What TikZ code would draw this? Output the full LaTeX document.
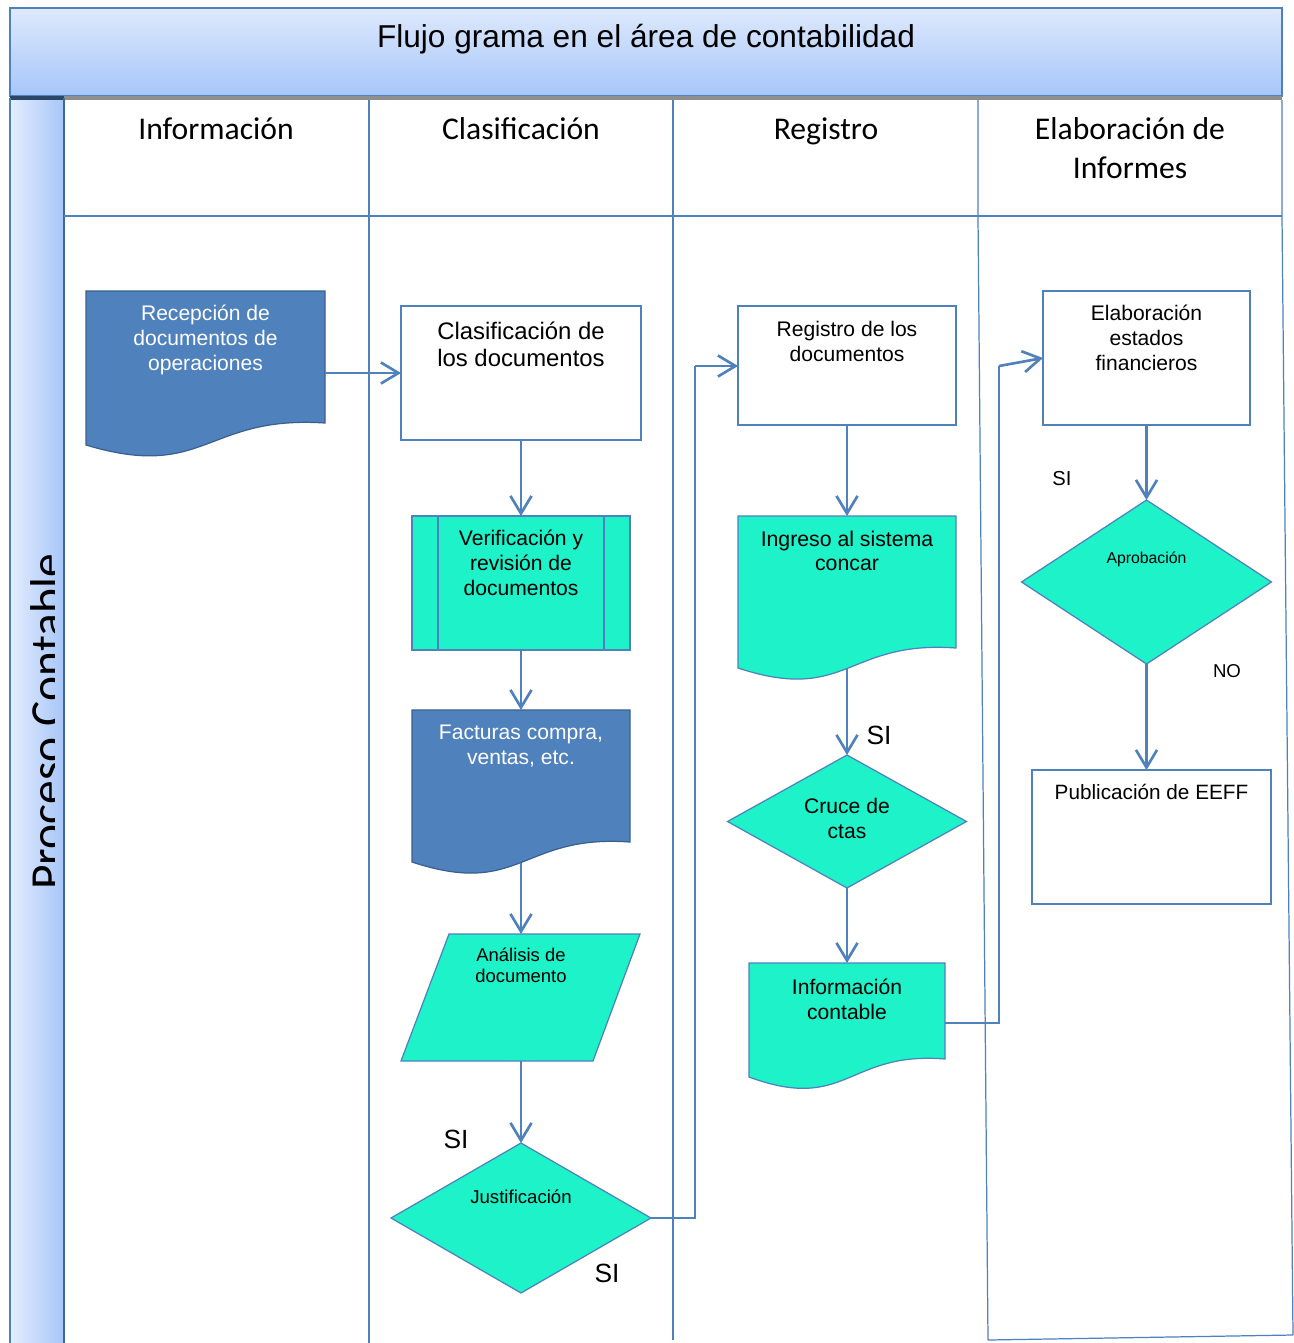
\documentclass[tikz,border=0pt]{standalone}
\usepackage{fontspec}
\setmainfont{Liberation Sans}
\newfontfamily\calibrifont{Carlito}
\usetikzlibrary{arrows.meta,calc}
\definecolor{lane}{HTML}{4F81BD}
\definecolor{turq}{HTML}{1DF2C9}
\definecolor{dkblue}{HTML}{4F81BD}
\definecolor{dkborder}{HTML}{3A6090}
\definecolor{bandtop}{HTML}{DEE9FD}
\definecolor{bandbot}{HTML}{A6C6F9}
\definecolor{sideleft}{HTML}{E4EDFD}
\definecolor{sideright}{HTML}{A7C6F9}
\definecolor{shadowgray}{HTML}{8E8E8E}
\newcommand\docpath[6]{%
  \path[#1] (#2,#3) -- (#4,#3) -- (#4,#5)
    .. controls ({(#2+#4)/2},{#5-8}) and ({(#2+#4)/2},{#6+36}) .. (#2,#6) -- cycle;}
\begin{document}
\begin{tikzpicture}[x=0.02cm,y=-0.02cm,
  laneline/.style={draw=lane, line width=0.7pt},
  anchorbox/.style={rectangle, draw=none, inner sep=0, outer sep=0},
  whitebox/.style={rectangle, draw=lane, fill=white, line width=0.7pt, inner sep=0, outer sep=0},
  turqbox/.style={rectangle, draw=lane, fill=turq, line width=0.7pt, inner sep=0, outer sep=0},
  turqfill/.style={draw=lane, fill=turq, line width=0.7pt},
  darkfill/.style={draw=dkborder, fill=dkblue, line width=0.7pt},
  arr/.style={draw=lane, line width=1.5pt, -{Straight Barb[length=10pt,width=12pt]}},
  thinline/.style={draw=lane, line width=0.7pt},
  tx/.style={inner sep=0, outer sep=0, align=center, font=\fontsize{12}{14.2}\selectfont},
  hdr/.style={inner sep=0, outer sep=0, align=center, font=\calibrifont\fontsize{18}{22}\selectfont},
  lbl/.style={inner sep=0, outer sep=0, anchor=base}
]
\useasboundingbox (0,0) rectangle (1294,1343);
\fill[white] (0,0) rectangle (1294,1343);

% ---------- title band ----------
\shade[top color=bandtop, bottom color=bandbot] (10,8) rectangle (1282,96);
\draw[lane, line width=0.8pt] (10,8) rectangle (1282,96);
\node[inner sep=0, anchor=base, font=\fontsize{18}{22}\selectfont] (title) at (646,47) {Flujo grama en el área de contabilidad};

% ---------- side band ----------
\shade[left color=sideleft, right color=sideright] (10,98) rectangle (64,1343);
\fill[shadowgray] (10,96) rectangle (1282,100);
\fill[black!45!lane] (10,96) rectangle (64,100);
\draw[lane, line width=0.8pt] (10,98) -- (10,1343);
\draw[lane!80!black, line width=0.9pt] (64,98) -- (64,1343);
\begin{scope}
  \clip (10,100) rectangle (54,1343);
  \node[rotate=90, anchor=base, inner sep=0, font=\calibrifont\fontsize{27}{32}\selectfont] (side) at (63,722) {Proceso Contable};
\end{scope}

% ---------- lanes ----------
\draw[laneline] (64,216) -- (1282,216);
\draw[laneline] (369,100) -- (369,1343);
\draw[laneline] (673,100) -- (673,216) -- (673,1340);
\draw[laneline] (978,100) -- (978,216) -- (988,1340);
\draw[laneline] (1282,100) -- (1282,216) -- (1293,1335);
\draw[laneline] (988,1340) -- (1293,1335);

\node[hdr, anchor=base] (h1) at (216,139) {Información};
\node[hdr, anchor=base] (h2) at (521,139) {Clasificación};
\node[hdr, anchor=base] (h3) at (826,139) {Registro};
\node[hdr, anchor=base] (h4) at (1130,139) {Elaboración de};
\node[hdr, anchor=base] (h5) at (1130,178) {Informes};

% ---------- lane 1 ----------
\node[anchorbox, minimum width=4.78cm, minimum height=2.64cm] (rec) at (205.5,357) {};
\docpath{darkfill}{86}{291}{325}{423}{445}
\node[tx, white, anchor=north] (trec) at (205.5,305) {Recepción de\\documentos de\\operaciones};

% ---------- lane 2 ----------
\node[whitebox, minimum width=4.8cm, minimum height=2.68cm] (clas) at (521,373) {};
\node[tx, anchor=north, font=\fontsize{13.6}{15.3}\selectfont] (tclas) at (521,322) {Clasificación de\\los documentos};

\node[turqbox, minimum width=4.36cm, minimum height=2.68cm] (verif) at (521,583) {};
\draw[lane, line width=0.7pt] (438,516) -- (438,650) (604,516) -- (604,650);
\node[tx, anchor=north] (tverif) at (521,530) {Verificación y\\revisión de\\documentos};

\node[anchorbox, minimum width=4.36cm, minimum height=2.64cm] (fact) at (521,776) {};
\docpath{darkfill}{412}{710}{630}{842}{862}
\coordinate (factB) at (521,863);
\node[tx, white, anchor=north] (tfact) at (521,725) {Facturas compra,\\ventas, etc.};

\node[anchorbox, minimum width=4.78cm, minimum height=2.54cm] (an) at (521,997.5) {};
\path[turqfill] (449,934) -- (640,934) -- (593,1061) -- (401,1061) -- cycle;
\node[tx, anchor=north, font=\fontsize{10.5}{11.9}\selectfont] (tan) at (521,948) {Análisis de\\documento};

\node[anchorbox, minimum width=5.2cm, minimum height=3cm] (just) at (521,1218) {};
\path[turqfill] (just.north) -- (just.east) -- (just.south) -- (just.west) -- cycle;
\node[tx, anchor=north, font=\fontsize{10.6}{12}\selectfont] (tjust) at (521,1190) {Justificación};

\node[lbl, font=\fontsize{15}{18}\selectfont] (si1) at (456,1148) {SI};
\node[lbl, font=\fontsize{15}{18}\selectfont] (si2) at (607,1282) {SI};

% ---------- lane 3 ----------
\node[whitebox, minimum width=4.36cm, minimum height=2.38cm] (regi) at (847,365.5) {};
\node[tx, anchor=north] (tregi) at (847,321) {Registro de los\\documentos};

\node[anchorbox, minimum width=4.36cm, minimum height=2.64cm] (ingr) at (847,582) {};
\docpath{turqfill}{738}{516}{956}{648}{668}
\coordinate (ingrB) at (847,669);
\node[tx, anchor=north, font=\fontsize{12.1}{13.6}\selectfont] (tingr) at (847,531) {Ingreso al sistema\\concar};

\node[anchorbox, minimum width=4.78cm, minimum height=2.66cm] (cruce) at (847,821.5) {};
\path[turqfill] (cruce.north) -- (cruce.east) -- (cruce.south) -- (cruce.west) -- cycle;
\node[tx, anchor=north] (tcruce) at (847,798) {Cruce de\\ctas};
\node[lbl, font=\fontsize{15}{18}\selectfont] (si3) at (879,744) {SI};

\node[anchorbox, minimum width=3.92cm, minimum height=1.92cm] (info) at (847,1011) {};
\docpath{turqfill}{749}{963}{945}{1059}{1077}
\node[tx, anchor=north] (tinfo) at (847,979) {Información\\contable};

% ---------- lane 4 ----------
\node[whitebox, minimum width=4.14cm, minimum height=2.68cm] (elab) at (1146.5,358) {};
\node[tx, anchor=north] (telab) at (1146.5,305) {Elaboración\\estados\\financieros};

\node[anchorbox, minimum width=5cm, minimum height=3.28cm] (aprob) at (1146.5,582) {};
\path[turqfill] (aprob.north) -- (aprob.east) -- (aprob.south) -- (aprob.west) -- cycle;
\node[tx, anchor=north, font=\fontsize{9}{11}\selectfont] (taprob) at (1146.5,552) {Aprobación};
\node[lbl, font=\fontsize{11.5}{14}\selectfont] (si4) at (1062,485) {SI};
\node[lbl, font=\fontsize{10.6}{13}\selectfont] (no1) at (1227,677) {NO};

\node[whitebox, minimum width=4.78cm, minimum height=2.68cm] (publ) at (1151.5,837) {};
\node[tx, anchor=north, font=\fontsize{11.8}{14}\selectfont] (tpubl) at (1151.5,784) {Publicación de EEFF};

% ---------- connectors ----------
\draw[arr] (rec.east |- clas.west) -- (clas.west);
\draw[arr] (clas.south) -- (verif.north);
\draw[arr] (verif.south) -- (fact.north);
\draw[arr] (factB) -- (an.north);
\draw[arr] (an.south) -- (just.north);
\coordinate (c1) at (695,366);
\draw[thinline] (just.east) -| (c1);
\draw[arr] (c1) -- (regi.west |- c1);
\draw[arr] (regi.south) -- (ingr.north);
\draw[arr] (ingrB) -- (cruce.north);
\draw[arr] (cruce.south) -- (info.north);
\coordinate (c2) at (999,366);
\draw[thinline] ($(info.east)+(0,12)$) -| (c2);
\draw[arr] (c2) -- (elab.west);
\draw[arr] (elab.south) -- (aprob.north);
\draw[arr] (aprob.south) -- (aprob.south |- publ.north);
\end{tikzpicture}
\end{document}
